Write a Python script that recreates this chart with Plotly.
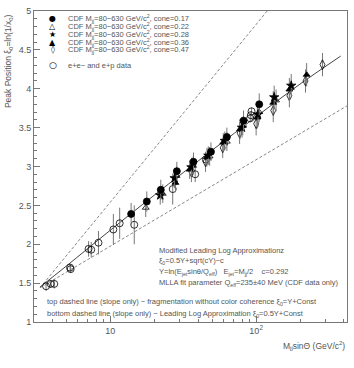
import plotly.graph_objects as go

# CDF data, one list per cone size (x = M_jj sin(cone) in GeV/c^2)
cone017_x = [13.9, 17.8, 22.2, 28.6, 37.2, 49, 63, 82, 105]
cone017_y = [2.39, 2.55, 2.70, 2.94, 3.06, 3.19, 3.38, 3.59, 3.80]
cone017_err = [0.14, 0.13, 0.13, 0.12, 0.12, 0.12, 0.12, 0.13, 0.14]

cone022_x = [17.5, 22.9, 28.5, 37, 48, 63, 81, 105, 137]
cone022_y = [2.47, 2.65, 2.88, 3.01, 3.13, 3.32, 3.52, 3.70, 3.85]
cone022_err = [0.12, 0.12, 0.12, 0.12, 0.12, 0.12, 0.12, 0.13, 0.14]

cone028_x = [22, 27.6, 36, 47, 61, 80, 103, 133, 174]
cone028_y = [2.63, 2.85, 2.99, 3.14, 3.33, 3.50, 3.67, 3.89, 4.04]
cone028_err = [0.12, 0.13, 0.12, 0.12, 0.12, 0.13, 0.16, 0.15, 0.15]

cone036_x = [28, 35, 46, 59.5, 77.5, 102, 131, 169, 222]
cone036_y = [2.79, 2.96, 3.12, 3.31, 3.48, 3.63, 3.82, 3.99, 4.18]
cone036_err = [0.12, 0.12, 0.12, 0.12, 0.13, 0.14, 0.15, 0.15, 0.15]

cone047_x = [36, 45, 59, 77, 100, 131, 169, 218, 285]
cone047_y = [2.93, 3.06, 3.24, 3.43, 3.55, 3.72, 3.91, 4.10, 4.31]
cone047_err = [0.13, 0.13, 0.13, 0.14, 0.15, 0.15, 0.15, 0.15, 0.15]

# e+e- and e+p data
ee_x = [3.63, 3.9, 4.13, 5.3, 5.35, 7.1, 7.4, 8.3, 10.5, 11.6, 14.6, 26.8, 38.2, 45.2, 91, 92, 93]
ee_y = [1.46, 1.49, 1.49, 1.70, 1.68, 1.94, 1.93, 2.02, 2.19, 2.27, 2.25, 2.71, 2.90, 3.09, 3.62, 3.66, 3.71]
ee_err = [0.06, 0.05, 0.06, 0.05, 0.05, 0.1, 0.1, 0.15, 0.2, 0.2, 0.25, 0.2, 0.1, 0.08, 0.05, 0.05, 0.05]

# MLLA fit curve and slope-only reference lines
mlla_x = [3.3, 5, 10, 20, 50, 100, 200, 380]
mlla_y = [1.45, 1.72, 2.18, 2.63, 3.21, 3.64, 4.06, 4.42]
top_x = [3.3, 119]
top_y = [1.44, 5.0]
bot_x = [3.3, 420]
bot_y = [1.44, 3.78]

FONT = "Liberation Sans"
TXT = "#555555"
ERR = "#777777"


def pxx(p):
    return (p - 34) / 314


def pxy(p):
    return (322 - p) / 315


fig = go.Figure()

for x, y in [(top_x, top_y), (bot_x, bot_y)]:
    fig.add_trace(go.Scatter(x=x, y=y, mode="lines",
                             line={"color": "#888888", "width": 1, "dash": "3px,2px"},
                             showlegend=False, hoverinfo="skip"))
fig.add_trace(go.Scatter(x=mlla_x, y=mlla_y, mode="lines",
                         line={"color": "#444444", "width": 1, "shape": "spline"},
                         showlegend=False, hoverinfo="skip"))

series = [
    (ee_x, ee_y, ee_err, "circle-open", 7),
    (cone047_x, cone047_y, cone047_err, "diamond-tall-open", 7),
    (cone022_x, cone022_y, cone022_err, "triangle-up-open", 6),
    (cone036_x, cone036_y, cone036_err, "triangle-up", 6),
    (cone028_x, cone028_y, cone028_err, "star", 7),
    (cone017_x, cone017_y, cone017_err, "circle", 7),
]
for x, y, err, sym, size in series:
    fig.add_trace(go.Scatter(
        x=x, y=y, mode="markers",
        error_y={"type": "data", "array": err, "width": 0, "thickness": 1, "color": ERR},
        marker={"symbol": sym, "size": size, "color": "black",
                "line": {"color": "black", "width": 0.8}},
        showlegend=False,
    ))

annotations = []

# hand-made legend
legend_rows = [
    ("●", "cone=0.17", 15),
    ("△", "cone=0.22", 23),
    ("★", "cone=0.28", 31),
    ("▲", "cone=0.36", 39),
    ("◊", "cone=0.47", 46),
]
for sym, cone, py in legend_rows:
    annotations.append({"x": pxx(53), "y": pxy(py), "xanchor": "center", "text": sym,
                        "font": {"size": 8, "color": "black", "family": "DejaVu Sans"}})
    annotations.append({"x": pxx(66), "y": pxy(py), "xanchor": "left",
                        "text": "CDF M<sub>jj</sub>=80−630 GeV/c<sup>2</sup>, " + cone,
                        "font": {"size": 7.5, "color": TXT}})
annotations.append({"x": pxx(53), "y": pxy(62), "xanchor": "center", "text": "○",
                    "font": {"size": 9, "color": "black", "family": "DejaVu Sans"}})
annotations.append({"x": pxx(66), "y": pxy(62), "xanchor": "left",
                    "text": "e+e− and e+p data", "font": {"size": 7.5, "color": TXT}})

notes = [
    ("Modified Leading Log Approximationz", 157, 250),
    ("ξ<sub>0</sub>=0.5Y+sqrt(cY)−c", 157, 260),
    ("Y=ln(E<sub>jet</sub>sinθ/Q<sub>eff</sub>)   E<sub>jet</sub>=M<sub>jj</sub>/2    c=0.292", 157, 271),
    ("MLLA fit parameter Q<sub>eff</sub>=235±40 MeV (CDF data only)", 157, 283),
    ("top dashed line (slope only) − fragmentation without color coherence ξ<sub>0</sub>=Y+Const", 45, 302),
    ("bottom dashed line (slope only) − Leading Log Approximation ξ<sub>0</sub>=0.5Y+Const", 45, 314),
]
for text, px, py in notes:
    annotations.append({"x": pxx(px), "y": pxy(py), "xanchor": "left", "text": text,
                        "font": {"size": 7.5, "color": TXT}})

annotations.append({"x": pxx(9), "y": pxy(8), "xanchor": "center", "yanchor": "top", "textangle": -90,
                    "text": "Peak Position ξ<sub>0</sub>=ln(1/x<sub>0</sub>)",
                    "font": {"size": 8.5, "color": TXT}})
annotations.append({"x": pxx(348), "y": pxy(346), "xanchor": "right",
                    "text": "M<sub>jj</sub>sinΘ (GeV/c<sup>2</sup>)",
                    "font": {"size": 8.5, "color": TXT}})

for a in annotations:
    a.setdefault("yanchor", "middle")
    a.update({"xref": "paper", "yref": "paper", "showarrow": False})

fig.update_layout(
    width=354,
    height=368,
    paper_bgcolor="white",
    plot_bgcolor="white",
    margin={"l": 34, "r": 6, "t": 7, "b": 46},
    font={"family": FONT, "color": TXT},
    showlegend=False,
    annotations=annotations,
    xaxis={
        "type": "log",
        "range": [0.477, 2.623],
        "showgrid": False,
        "zeroline": False,
        "showline": True,
        "mirror": True,
        "linecolor": "#777777",
        "linewidth": 1,
        "ticks": "inside",
        "ticklen": 6,
        "tickcolor": "#777777",
        "tickvals": [10, 100],
        "ticktext": ["10", "10<sup>2</sup>"],
        "tickfont": {"size": 9, "color": TXT},
        "minor": {
            "ticks": "inside",
            "ticklen": 3,
            "tickcolor": "#777777",
            "tickvals": [4, 5, 6, 7, 8, 9, 20, 30, 40, 50, 60, 70, 80, 90, 200, 300, 400],
        },
    },
    yaxis={
        "range": [1, 5],
        "showgrid": False,
        "zeroline": False,
        "showline": True,
        "mirror": True,
        "linecolor": "#777777",
        "linewidth": 1,
        "ticks": "inside",
        "ticklen": 6,
        "tickcolor": "#777777",
        "dtick": 0.5,
        "tick0": 1,
        "tickfont": {"size": 9, "color": TXT},
        "minor": {"ticks": "inside", "ticklen": 3, "tickcolor": "#777777", "dtick": 0.1},
    },
)

fig.write_html("out.html", config={"displayModeBar": False},
               post_script="document.body.style.margin='0';")
